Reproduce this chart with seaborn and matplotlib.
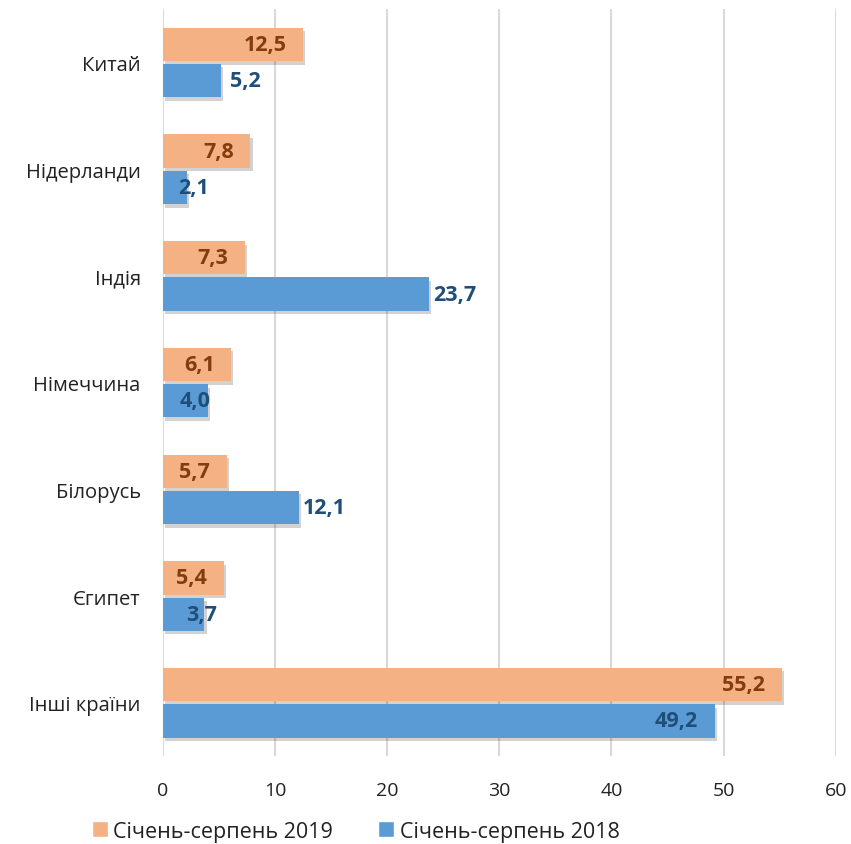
import numpy as np
import pandas as pd
import matplotlib
matplotlib.use("Agg")
import matplotlib.pyplot as plt
import matplotlib.patheffects as pe
from matplotlib.patches import Patch
import seaborn as sns

countries = ["Китай", "Нідерланди", "Індія", "Німеччина", "Білорусь", "Єгипет", "Інші країни"]
values_2019 = [12.5, 7.8, 7.3, 6.1, 5.7, 5.4, 55.2]
values_2018 = [5.2, 2.1, 23.7, 4.0, 12.1, 3.7, 49.2]
series = ["Січень-серпень 2019", "Січень-серпень 2018"]
x_ticks = [0, 10, 20, 30, 40, 50, 60]

colors = {"Січень-серпень 2019": "#F4B183", "Січень-серпень 2018": "#5B9BD5"}
label_colors = {"Січень-серпень 2019": "#843C0C", "Січень-серпень 2018": "#1F4E79"}

# label offsets (points, alignment) -- hand placed like in the source
offs_2019 = [(-12, "right")] * 7
offs_2018 = [(6, "left"), (16, "right"), (3, "left"), (2, "right"),
             (3, "left"), (9, "right"), (-12, "right")]

df = pd.DataFrame({
    "country": countries * 2,
    "value": values_2019 + values_2018,
    "series": [series[0]] * 7 + [series[1]] * 7,
})

sns.set_theme(style="white")
plt.rcParams["font.family"] = ["Open Sans", "DejaVu Sans"]

fig = plt.figure(figsize=(8.51, 8.45), dpi=100)
ax = fig.add_axes([0.1915, 0.104, 0.7905, 0.884])

sns.barplot(data=df, y="country", x="value", hue="series", orient="h",
            order=countries, hue_order=series, palette=colors, saturation=1,
            width=0.68, gap=0.08, ax=ax, legend=False, zorder=3)

shadow = [pe.SimplePatchShadow(offset=(1.5, -2.5), alpha=0.22, shadow_rgbFace="#333333"), pe.Normal()]
for cont in ax.containers:
    for bar in cont:
        bar.set_path_effects(shadow)
        bar.set_edgecolor("none")

for cont, name, offs in zip(ax.containers, series, [offs_2019, offs_2018]):
    for bar, (dx, ha) in zip(cont, offs):
        w = bar.get_width()
        y = bar.get_y() + bar.get_height() / 2
        ax.annotate(f"{w:.1f}".replace(".", ","), (w, y), xytext=(dx, 0),
                    textcoords="offset points", ha=ha, va="center",
                    fontsize=15.5, fontweight="bold", color=label_colors[name],
                    zorder=5)

ax.set_xlim(0, 60)
ax.set_ylim(6.5, -0.5)
ax.set_xticks(x_ticks)
ax.set_xticklabels([str(t) for t in x_ticks])
ax.xaxis.grid(True, color="#D9D9D9", linewidth=1.5, zorder=0)
ax.yaxis.grid(False)
for s in ax.spines.values():
    s.set_visible(False)
ax.set_xlabel("")
ax.set_ylabel("")
ax.tick_params(axis="x", labelsize=14, colors="#222222", pad=18, length=0)
ax.tick_params(axis="y", labelsize=14.5, colors="#222222", pad=16, length=0)

handles = [Patch(facecolor=colors[s], label=s) for s in series]
fig.legend(handles=handles, loc="lower center", bbox_to_anchor=(0.418, -0.02), ncol=2,
           frameon=False, fontsize=15.5, handlelength=0.75, handleheight=0.75,
           handletextpad=0.25, columnspacing=2.1, labelcolor="#222222")

fig.savefig("out.png", dpi=100)
